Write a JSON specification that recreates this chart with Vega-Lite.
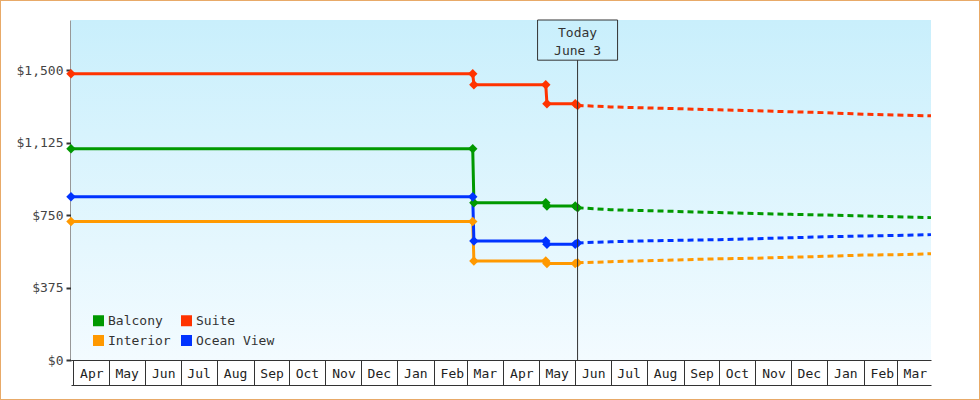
{
  "$schema": "https://vega.github.io/schema/vega-lite/v6.json",
  "width": 980,
  "height": 400,
  "autosize": "none",
  "padding": 0,
  "background": "white",
  "config": {
    "view": {"stroke": "#e8aa68", "strokeWidth": 2},
    "font": "DejaVu Sans Mono"
  },
  "datasets": {
    "prices": [
      {"date": "2012-03-30", "room": "Balcony", "price": 1094, "kind": "actual"},
      {"date": "2013-03-06", "room": "Balcony", "price": 1094, "kind": "actual"},
      {"date": "2013-03-07", "room": "Balcony", "price": 814, "kind": "actual"},
      {"date": "2013-05-07", "room": "Balcony", "price": 814, "kind": "actual"},
      {"date": "2013-05-08", "room": "Balcony", "price": 797, "kind": "actual"},
      {"date": "2013-06-01", "room": "Balcony", "price": 797, "kind": "actual"},
      {"date": "2013-06-03", "room": "Balcony", "price": 788, "kind": "actual"},
      {"date": "2012-03-30", "room": "Interior", "price": 717, "kind": "actual"},
      {"date": "2013-03-06", "room": "Interior", "price": 717, "kind": "actual"},
      {"date": "2013-03-07", "room": "Interior", "price": 512, "kind": "actual"},
      {"date": "2013-05-07", "room": "Interior", "price": 512, "kind": "actual"},
      {"date": "2013-05-08", "room": "Interior", "price": 500, "kind": "actual"},
      {"date": "2013-06-01", "room": "Interior", "price": 500, "kind": "actual"},
      {"date": "2013-06-03", "room": "Interior", "price": 503, "kind": "actual"},
      {"date": "2012-03-30", "room": "Ocean View", "price": 845, "kind": "actual"},
      {"date": "2013-03-06", "room": "Ocean View", "price": 845, "kind": "actual"},
      {"date": "2013-03-07", "room": "Ocean View", "price": 616, "kind": "actual"},
      {"date": "2013-05-07", "room": "Ocean View", "price": 616, "kind": "actual"},
      {"date": "2013-05-08", "room": "Ocean View", "price": 599, "kind": "actual"},
      {"date": "2013-06-01", "room": "Ocean View", "price": 599, "kind": "actual"},
      {"date": "2013-06-03", "room": "Ocean View", "price": 606, "kind": "actual"},
      {"date": "2012-03-30", "room": "Suite", "price": 1482, "kind": "actual"},
      {"date": "2013-03-06", "room": "Suite", "price": 1482, "kind": "actual"},
      {"date": "2013-03-07", "room": "Suite", "price": 1425, "kind": "actual"},
      {"date": "2013-05-07", "room": "Suite", "price": 1425, "kind": "actual"},
      {"date": "2013-05-08", "room": "Suite", "price": 1326, "kind": "actual"},
      {"date": "2013-06-01", "room": "Suite", "price": 1326, "kind": "actual"},
      {"date": "2013-06-03", "room": "Suite", "price": 1318, "kind": "actual"},

      {"date": "2013-06-03", "room": "Balcony", "price": 788, "kind": "forecast"},
      {"date": "2013-07-01", "room": "Balcony", "price": 778, "kind": "forecast"},
      {"date": "2013-08-01", "room": "Balcony", "price": 773, "kind": "forecast"},
      {"date": "2013-09-01", "room": "Balcony", "price": 768, "kind": "forecast"},
      {"date": "2013-10-01", "room": "Balcony", "price": 763, "kind": "forecast"},
      {"date": "2013-11-01", "room": "Balcony", "price": 758, "kind": "forecast"},
      {"date": "2013-12-01", "room": "Balcony", "price": 754, "kind": "forecast"},
      {"date": "2014-01-01", "room": "Balcony", "price": 750, "kind": "forecast"},
      {"date": "2014-02-01", "room": "Balcony", "price": 746, "kind": "forecast"},
      {"date": "2014-03-01", "room": "Balcony", "price": 741, "kind": "forecast"},
      {"date": "2014-03-30", "room": "Balcony", "price": 737, "kind": "forecast"},
      {"date": "2013-06-03", "room": "Interior", "price": 503, "kind": "forecast"},
      {"date": "2013-07-01", "room": "Interior", "price": 509, "kind": "forecast"},
      {"date": "2013-08-01", "room": "Interior", "price": 514, "kind": "forecast"},
      {"date": "2013-09-01", "room": "Interior", "price": 519, "kind": "forecast"},
      {"date": "2013-10-01", "room": "Interior", "price": 524, "kind": "forecast"},
      {"date": "2013-11-01", "room": "Interior", "price": 527, "kind": "forecast"},
      {"date": "2013-12-01", "room": "Interior", "price": 532, "kind": "forecast"},
      {"date": "2014-01-01", "room": "Interior", "price": 537, "kind": "forecast"},
      {"date": "2014-02-01", "room": "Interior", "price": 543, "kind": "forecast"},
      {"date": "2014-03-01", "room": "Interior", "price": 545, "kind": "forecast"},
      {"date": "2014-03-30", "room": "Interior", "price": 550, "kind": "forecast"},
      {"date": "2013-06-03", "room": "Ocean View", "price": 606, "kind": "forecast"},
      {"date": "2013-07-01", "room": "Ocean View", "price": 612, "kind": "forecast"},
      {"date": "2013-08-01", "room": "Ocean View", "price": 617, "kind": "forecast"},
      {"date": "2013-09-01", "room": "Ocean View", "price": 620, "kind": "forecast"},
      {"date": "2013-10-01", "room": "Ocean View", "price": 623, "kind": "forecast"},
      {"date": "2013-11-01", "room": "Ocean View", "price": 628, "kind": "forecast"},
      {"date": "2013-12-01", "room": "Ocean View", "price": 633, "kind": "forecast"},
      {"date": "2014-01-01", "room": "Ocean View", "price": 638, "kind": "forecast"},
      {"date": "2014-02-01", "room": "Ocean View", "price": 642, "kind": "forecast"},
      {"date": "2014-03-01", "room": "Ocean View", "price": 645, "kind": "forecast"},
      {"date": "2014-03-30", "room": "Ocean View", "price": 649, "kind": "forecast"},
      {"date": "2013-06-03", "room": "Suite", "price": 1318, "kind": "forecast"},
      {"date": "2013-07-01", "room": "Suite", "price": 1310, "kind": "forecast"},
      {"date": "2013-08-01", "room": "Suite", "price": 1305, "kind": "forecast"},
      {"date": "2013-09-01", "room": "Suite", "price": 1300, "kind": "forecast"},
      {"date": "2013-10-01", "room": "Suite", "price": 1295, "kind": "forecast"},
      {"date": "2013-11-01", "room": "Suite", "price": 1290, "kind": "forecast"},
      {"date": "2013-12-01", "room": "Suite", "price": 1285, "kind": "forecast"},
      {"date": "2014-01-01", "room": "Suite", "price": 1280, "kind": "forecast"},
      {"date": "2014-02-01", "room": "Suite", "price": 1272, "kind": "forecast"},
      {"date": "2014-03-01", "room": "Suite", "price": 1268, "kind": "forecast"},
      {"date": "2014-03-30", "room": "Suite", "price": 1264, "kind": "forecast"}
    ],
    "today": [
      {"date": "2013-06-03", "label": "Today\nJune 3"}
    ]
  },
  "resolve": {"axis": {"x": "independent"}},
  "layer": [
    {
      "data": {"values": [{}]},
      "mark": {
        "type": "rect",
        "color": {
          "gradient": "linear",
          "x1": 0, "y1": 0, "x2": 0, "y2": 1,
          "stops": [
            {"offset": 0, "color": "#c9effc"},
            {"offset": 1, "color": "#f3fbff"}
          ]
        }
      },
      "encoding": {
        "x": {"datum": {"year": 2012, "month": 3, "date": 30, "utc": true}, "type": "temporal", "axis": null},
        "x2": {"datum": {"year": 2014, "month": 3, "date": 30, "utc": true}},
        "y": {"datum": 1760, "type": "quantitative"},
        "y2": {"datum": 0}
      }
    },
    {
      "data": {"name": "prices"},
      "mark": {"type": "line", "strokeWidth": 3},
      "encoding": {
        "x": {
          "field": "date",
          "type": "temporal",
          "scale": {
            "type": "utc",
            "domain": [
              {"year": 2012, "month": 3, "date": 30, "utc": true},
              {"year": 2014, "month": 3, "date": 30, "utc": true}
            ],
            "range": [71, 931],
            "padding": 0,
            "nice": false
          },
          "axis": {
            "title": null,
            "orient": "bottom",
            "offset": -40,
            "grid": false,
            "domain": true,
            "domainColor": "#333",
            "domainWidth": 1,
            "ticks": true,
            "tickSize": 25,
            "tickColor": "#333",
            "tickWidth": 1,
            "tickCount": {"interval": "month", "step": 1},
            "format": "%b",
            "labelAlign": "center",
            "labelBaseline": "middle",
            "labelOffset": 18,
            "labelPadding": -12,
            "labelFont": "DejaVu Sans Mono",
            "labelFontSize": 13,
            "labelColor": "#222",
            "labelOverlap": false,
            "labelBound": false,
            "labelFlush": false
          }
        },
        "y": {
          "field": "price",
          "type": "quantitative",
          "scale": {"domain": [0, 1760], "range": [360, 20], "padding": 0, "nice": false, "zero": true},
          "axis": {
            "title": null,
            "orient": "left",
            "offset": -71,
            "grid": false,
            "values": [0, 375, 750, 1125, 1500],
            "format": "$,.0f",
            "domainColor": "#333",
            "domainWidth": 2,
            "tickColor": "#333",
            "tickWidth": 2,
            "tickSize": 5,
            "labelPadding": 3,
            "labelFont": "DejaVu Sans Mono",
            "labelFontSize": 13,
            "labelColor": "#444"
          }
        },
        "color": {
          "field": "room",
          "type": "nominal",
          "scale": {
            "domain": ["Balcony", "Interior", "Suite", "Ocean View"],
            "range": ["#009900", "#ff9900", "#ff3300", "#0033ff"]
          },
          "legend": {
            "title": null,
            "orient": "none",
            "legendX": 92,
            "legendY": 314,
            "columns": 2,
            "symbolType": "square",
            "symbolSize": 121,
            "symbolStrokeWidth": 0,
            "symbolOpacity": 1,
            "labelFont": "DejaVu Sans Mono",
            "labelFontSize": 13,
            "labelColor": "#333",
            "labelOffset": 3,
            "columnPadding": 9,
            "rowPadding": 6,
            "padding": 0
          }
        },
        "strokeDash": {
          "field": "kind",
          "type": "nominal",
          "scale": {"domain": ["actual", "forecast"], "range": [[1, 0], [6, 4]]},
          "legend": null
        }
      }
    },
    {
      "data": {"name": "prices"},
      "transform": [{"filter": "datum.kind === 'actual'"}],
      "mark": {"type": "point", "shape": "diamond", "filled": true, "size": 90, "opacity": 1},
      "encoding": {
        "x": {"field": "date", "type": "temporal", "axis": null},
        "y": {"field": "price", "type": "quantitative"},
        "color": {"field": "room", "type": "nominal"}
      }
    },
    {
      "data": {"name": "today"},
      "mark": {"type": "bar", "width": 80, "fill": null, "stroke": "#333", "strokeWidth": 1},
      "encoding": {
        "x": {"field": "date", "type": "temporal", "axis": null},
        "y": {"datum": 1760, "type": "quantitative"},
        "y2": {"datum": 1552}
      }
    },
    {
      "data": {"name": "today"},
      "mark": {"type": "rule", "color": "#333", "strokeWidth": 1},
      "encoding": {
        "x": {
          "field": "date",
          "type": "temporal",
          "axis": {
            "title": null,
            "orient": "bottom",
            "offset": -15,
            "grid": false,
            "domain": true,
            "domainColor": "#333",
            "domainWidth": 1,
            "ticks": false,
            "labels": false
          }
        },
        "y": {"datum": 1552, "type": "quantitative"},
        "y2": {"datum": 0}
      }
    },
    {
      "data": {"name": "today"},
      "mark": {
        "type": "text",
        "lineBreak": "\n",
        "lineHeight": 18,
        "font": "DejaVu Sans Mono",
        "fontSize": 13,
        "color": "#333",
        "baseline": "middle",
        "align": "center"
      },
      "encoding": {
        "x": {"field": "date", "type": "temporal", "axis": null},
        "y": {"datum": 1694, "type": "quantitative"},
        "text": {"field": "label"}
      }
    }
  ]
}
